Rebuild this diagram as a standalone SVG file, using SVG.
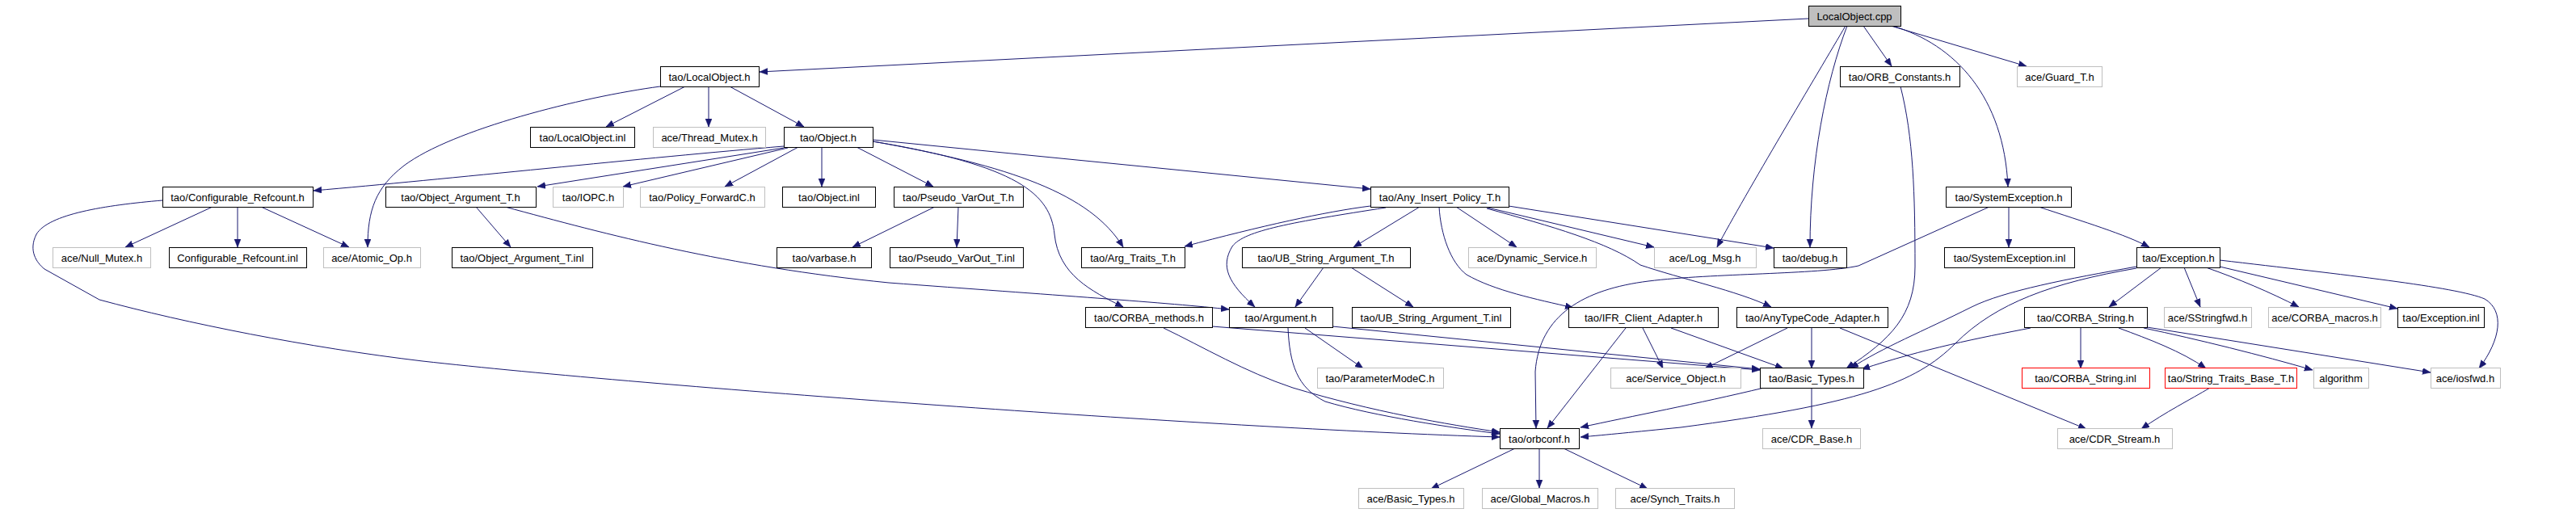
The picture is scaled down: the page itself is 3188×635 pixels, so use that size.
<svg xmlns="http://www.w3.org/2000/svg" width="3188" height="635" viewBox="0 0 3188 635">
<style>
.n rect{fill:#fff;stroke:#000;stroke-width:1}
.n.u rect{stroke:#bfbfbf}
.n.r rect{stroke:#ff0000}
.n.root rect{fill:#bfbfbf}
.n text{font-family:"Liberation Sans",Arial,sans-serif;font-size:13px;text-anchor:middle;fill:#000}
#connectors path{fill:none;stroke:#191970;stroke-width:1;marker-end:url(#ah)}
</style>
<defs>
<marker id="ah" markerUnits="userSpaceOnUse" markerWidth="11" markerHeight="9" refX="10" refY="4" orient="auto">
<path d="M0,0 L10,4 L0,8 Z" fill="#191970" stroke="#191970" stroke-width="0.5"/>
</marker>
</defs>
<rect width="3188" height="635" fill="#fff"/>
<g id="connectors">
<path d="M2238,23 L940,89"/>
<path d="M2284,32 C2250,90 2160,240 2125,306"/>
<path d="M2286,32 C2260,100 2240,200 2240,306"/>
<path d="M2306,32 L2341,82"/>
<path d="M2342,32 C2420,55 2480,120 2485,231"/>
<path d="M2340,32 L2508,82"/>
<path d="M817,107 C720,120 560,160 500,205 C465,232 455,260 455,306"/>
<path d="M848,107 L750,157"/>
<path d="M877,107 L877,157"/>
<path d="M903,107 L995,157"/>
<path d="M970,181 C800,195 550,222 388,236"/>
<path d="M970,183 L665,231"/>
<path d="M975,183 L771,231"/>
<path d="M988,182 L897,231"/>
<path d="M1017,182 L1017,231"/>
<path d="M1060,182 L1155,231"/>
<path d="M1080,175 C1260,205 1300,240 1305,290 C1310,340 1350,360 1390,380"/>
<path d="M1080,175 C1250,205 1350,240 1390,306"/>
<path d="M1080,173 L1696,234"/>
<path d="M263,256 L155,306"/>
<path d="M294,256 L294,306"/>
<path d="M323,256 L432,306"/>
<path d="M201,248 C130,254 60,265 45,290 C35,310 45,325 55,333 L123,371 C230,400 380,430 523,447 C800,478 1500,530 1856,541"/>
<path d="M589,256 L632,306"/>
<path d="M625,256 C750,290 900,330 1100,350 C1300,365 1450,375 1521,383"/>
<path d="M1157,256 L1055,306"/>
<path d="M1186,256 L1184,306"/>
<path d="M1696,255 C1640,262 1560,280 1466,305"/>
<path d="M1715,257 C1600,275 1540,285 1525,305 C1510,330 1520,350 1553,380"/>
<path d="M1757,256 L1675,306"/>
<path d="M1781,256 C1783,290 1795,325 1815,340 C1850,360 1900,370 1947,381"/>
<path d="M1802,256 L1877,306"/>
<path d="M1837,256 L2047,306"/>
<path d="M1840,258 C1920,280 1990,300 2030,328 C2080,345 2150,360 2192,380"/>
<path d="M1867,255 L2195,307"/>
<path d="M1638,331 L1603,380"/>
<path d="M1672,331 L1749,380"/>
<path d="M1615,406 L1687,456"/>
<path d="M1594,406 C1596,450 1605,480 1640,497 C1700,515 1800,530 1856,537"/>
<path d="M1649,404 L2178,457"/>
<path d="M1440,406 C1490,430 1540,460 1600,480 C1700,510 1790,525 1856,535"/>
<path d="M1500,404 L2178,458"/>
<path d="M2033,406 L2058,456"/>
<path d="M2012,406 L1915,530"/>
<path d="M2068,406 L2207,456"/>
<path d="M2212,406 L2110,456"/>
<path d="M2242,406 L2242,456"/>
<path d="M2277,406 L2582,531"/>
<path d="M2352,107 C2368,170 2370,240 2370,330 C2370,390 2340,420 2285,456"/>
<path d="M2486,256 L2486,306"/>
<path d="M2523,256 C2580,275 2630,290 2660,306"/>
<path d="M2462,256 L2300,329 C2250,340 2120,338 2040,348 C1960,358 1905,390 1900,460 L1901,530"/>
<path d="M2675,331 L2610,380"/>
<path d="M2703,331 L2723,380"/>
<path d="M2730,331 C2770,345 2810,362 2845,380"/>
<path d="M2747,330 L2967,382"/>
<path d="M2747,322 C2900,340 3040,355 3075,370 C3100,385 3095,420 3068,456"/>
<path d="M2644,330 C2560,345 2480,360 2440,380 C2380,410 2330,430 2290,456"/>
<path d="M2644,332 C2540,350 2470,375 2420,425 C2370,475 2300,500 2080,529 C2020,535 1990,538 1956,541"/>
<path d="M2513,406 C2450,418 2380,432 2304,457"/>
<path d="M2575,406 L2575,456"/>
<path d="M2622,406 C2660,420 2700,435 2730,456"/>
<path d="M2653,406 C2720,420 2800,440 2862,458"/>
<path d="M2657,405 L3008,461"/>
<path d="M2735,480 C2710,495 2680,510 2650,531"/>
<path d="M2242,481 L2242,530"/>
<path d="M2183,480 C2100,500 2020,515 1956,529"/>
<path d="M1875,555 L1771,605"/>
<path d="M1905,555 L1905,604"/>
<path d="M1935,555 L2039,605"/>
</g>
<g id="n_cpp" class="n root"><rect x="2238.5" y="7.5" width="114" height="25"/><text x="2295" y="24.5">LocalObject.cpp</text></g>
<g id="n_localobject_h" class="n"><rect x="817.5" y="82.5" width="122" height="25"/><text x="878" y="99.5">tao/LocalObject.h</text></g>
<g id="n_orb_constants" class="n"><rect x="2277.5" y="82.5" width="148" height="25"/><text x="2351" y="99.5">tao/ORB_Constants.h</text></g>
<g id="n_guard_t" class="n u"><rect x="2496.5" y="82.5" width="105" height="25"/><text x="2549" y="99.5">ace/Guard_T.h</text></g>
<g id="n_localobject_inl" class="n"><rect x="656.5" y="157.5" width="129" height="25"/><text x="721" y="174.5">tao/LocalObject.inl</text></g>
<g id="n_thread_mutex" class="n u"><rect x="808.5" y="157.5" width="139" height="25"/><text x="878" y="174.5">ace/Thread_Mutex.h</text></g>
<g id="n_object_h" class="n"><rect x="970.5" y="157.5" width="110" height="25"/><text x="1025" y="174.5">tao/Object.h</text></g>
<g id="n_conf_refcount_h" class="n"><rect x="201.5" y="231.5" width="186" height="25"/><text x="294" y="248.5">tao/Configurable_Refcount.h</text></g>
<g id="n_object_argument_t_h" class="n"><rect x="477.5" y="231.5" width="186" height="25"/><text x="570" y="248.5">tao/Object_Argument_T.h</text></g>
<g id="n_iopc" class="n u"><rect x="684.5" y="231.5" width="87" height="25"/><text x="728" y="248.5">tao/IOPC.h</text></g>
<g id="n_policy_forwardc" class="n u"><rect x="792.5" y="231.5" width="154" height="25"/><text x="869" y="248.5">tao/Policy_ForwardC.h</text></g>
<g id="n_object_inl" class="n"><rect x="968.5" y="231.5" width="115" height="25"/><text x="1026" y="248.5">tao/Object.inl</text></g>
<g id="n_pseudo_varout_t_h" class="n"><rect x="1106.5" y="231.5" width="160" height="25"/><text x="1186" y="248.5">tao/Pseudo_VarOut_T.h</text></g>
<g id="n_any_insert_policy" class="n"><rect x="1696.5" y="231.5" width="171" height="25"/><text x="1782" y="248.5">tao/Any_Insert_Policy_T.h</text></g>
<g id="n_systemexception_h" class="n"><rect x="2408.5" y="231.5" width="155" height="25"/><text x="2486" y="248.5">tao/SystemException.h</text></g>
<g id="n_null_mutex" class="n u"><rect x="65.5" y="306.5" width="121" height="25"/><text x="126" y="323.5">ace/Null_Mutex.h</text></g>
<g id="n_conf_refcount_inl" class="n"><rect x="209.5" y="306.5" width="170" height="25"/><text x="294" y="323.5">Configurable_Refcount.inl</text></g>
<g id="n_atomic_op" class="n u"><rect x="400.5" y="306.5" width="120" height="25"/><text x="460" y="323.5">ace/Atomic_Op.h</text></g>
<g id="n_object_argument_t_inl" class="n"><rect x="559.5" y="306.5" width="174" height="25"/><text x="646" y="323.5">tao/Object_Argument_T.inl</text></g>
<g id="n_varbase" class="n"><rect x="961.5" y="306.5" width="117" height="25"/><text x="1020" y="323.5">tao/varbase.h</text></g>
<g id="n_pseudo_varout_t_inl" class="n"><rect x="1101.5" y="306.5" width="165" height="25"/><text x="1184" y="323.5">tao/Pseudo_VarOut_T.inl</text></g>
<g id="n_arg_traits_t" class="n"><rect x="1338.5" y="306.5" width="128" height="25"/><text x="1402" y="323.5">tao/Arg_Traits_T.h</text></g>
<g id="n_ub_string_argument_t_h" class="n"><rect x="1537.5" y="306.5" width="208" height="25"/><text x="1641" y="323.5">tao/UB_String_Argument_T.h</text></g>
<g id="n_dynamic_service" class="n u"><rect x="1817.5" y="306.5" width="158" height="25"/><text x="1896" y="323.5">ace/Dynamic_Service.h</text></g>
<g id="n_log_msg" class="n u"><rect x="2047.5" y="306.5" width="126" height="25"/><text x="2110" y="323.5">ace/Log_Msg.h</text></g>
<g id="n_debug" class="n"><rect x="2195.5" y="306.5" width="90" height="25"/><text x="2240" y="323.5">tao/debug.h</text></g>
<g id="n_systemexception_inl" class="n"><rect x="2406.5" y="306.5" width="161" height="25"/><text x="2487" y="323.5">tao/SystemException.inl</text></g>
<g id="n_exception_h" class="n"><rect x="2644.5" y="306.5" width="103" height="25"/><text x="2696" y="323.5">tao/Exception.h</text></g>
<g id="n_corba_methods" class="n"><rect x="1343.5" y="380.5" width="157" height="25"/><text x="1422" y="397.5">tao/CORBA_methods.h</text></g>
<g id="n_argument" class="n"><rect x="1521.5" y="380.5" width="128" height="25"/><text x="1585" y="397.5">tao/Argument.h</text></g>
<g id="n_ub_string_argument_t_inl" class="n"><rect x="1673.5" y="380.5" width="196" height="25"/><text x="1771" y="397.5">tao/UB_String_Argument_T.inl</text></g>
<g id="n_ifr_client_adapter" class="n"><rect x="1941.5" y="380.5" width="185" height="25"/><text x="2034" y="397.5">tao/IFR_Client_Adapter.h</text></g>
<g id="n_anytypecode_adapter" class="n"><rect x="2149.5" y="380.5" width="187" height="25"/><text x="2243" y="397.5">tao/AnyTypeCode_Adapter.h</text></g>
<g id="n_corba_string_h" class="n"><rect x="2505.5" y="380.5" width="152" height="25"/><text x="2581" y="397.5">tao/CORBA_String.h</text></g>
<g id="n_sstringfwd" class="n u"><rect x="2678.5" y="380.5" width="108" height="25"/><text x="2732" y="397.5">ace/SStringfwd.h</text></g>
<g id="n_corba_macros" class="n u"><rect x="2807.5" y="380.5" width="139" height="25"/><text x="2877" y="397.5">ace/CORBA_macros.h</text></g>
<g id="n_exception_inl" class="n"><rect x="2967.5" y="380.5" width="107" height="25"/><text x="3021" y="397.5">tao/Exception.inl</text></g>
<g id="n_parametermodec" class="n u"><rect x="1630.5" y="455.5" width="156" height="25"/><text x="1708" y="472.5">tao/ParameterModeC.h</text></g>
<g id="n_service_object" class="n u"><rect x="1993.5" y="455.5" width="161" height="25"/><text x="2074" y="472.5">ace/Service_Object.h</text></g>
<g id="n_basic_types_tao" class="n"><rect x="2178.5" y="455.5" width="128" height="25"/><text x="2242" y="472.5">tao/Basic_Types.h</text></g>
<g id="n_corba_string_inl" class="n r"><rect x="2502.5" y="455.5" width="158" height="25"/><text x="2581" y="472.5">tao/CORBA_String.inl</text></g>
<g id="n_string_traits_base_t" class="n r"><rect x="2679.5" y="455.5" width="163" height="25"/><text x="2761" y="472.5">tao/String_Traits_Base_T.h</text></g>
<g id="n_algorithm" class="n u"><rect x="2863.5" y="455.5" width="68" height="25"/><text x="2897" y="472.5">algorithm</text></g>
<g id="n_iosfwd" class="n u"><rect x="3008.5" y="455.5" width="86" height="25"/><text x="3051" y="472.5">ace/iosfwd.h</text></g>
<g id="n_orbconf" class="n"><rect x="1856.5" y="530.5" width="98" height="25"/><text x="1905" y="547.5">tao/orbconf.h</text></g>
<g id="n_cdr_base" class="n u"><rect x="2181.5" y="530.5" width="121" height="25"/><text x="2242" y="547.5">ace/CDR_Base.h</text></g>
<g id="n_cdr_stream" class="n u"><rect x="2546.5" y="530.5" width="142" height="25"/><text x="2617" y="547.5">ace/CDR_Stream.h</text></g>
<g id="n_basic_types_ace" class="n u"><rect x="1681.5" y="604.5" width="130" height="25"/><text x="1746" y="621.5">ace/Basic_Types.h</text></g>
<g id="n_global_macros" class="n u"><rect x="1834.5" y="604.5" width="143" height="25"/><text x="1906" y="621.5">ace/Global_Macros.h</text></g>
<g id="n_synch_traits" class="n u"><rect x="1999.5" y="604.5" width="147" height="25"/><text x="2073" y="621.5">ace/Synch_Traits.h</text></g>
</svg>
